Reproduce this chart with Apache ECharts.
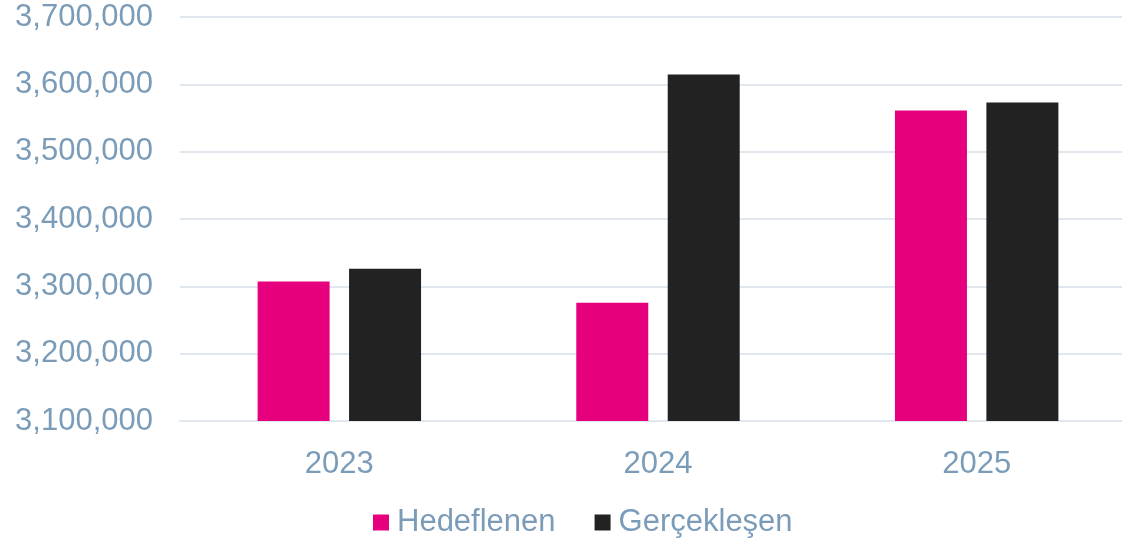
<!DOCTYPE html>
<html>
<head>
<meta charset="utf-8">
<script src="https://cdn.jsdelivr.net/npm/echarts@6/dist/echarts.min.js"></script>
<style>
  html, body { margin: 0; padding: 0; background: #fff; }
  #chart { width: 1122px; height: 541px; }
</style>
</head>
<body>
<div id="chart"></div>
<script>
const years = ['2023', '2024', '2025']
const targetValues = [3307000, 3275500, 3561000]
const actualValues = [3326000, 3614500, 3573000]
const seriesNames = ['Hedeflenen', 'Gerçekleşen']

const labelColor = '#7b9cb8'
const gridColor = '#e1e7ee'

const chart = echarts.init(document.getElementById('chart'))
chart.setOption({
  backgroundColor: '#ffffff',
  animation: false,
  grid: {
    left: 180,
    width: 956,
    top: 17,
    bottom: 120,
    outerBoundsMode: 'none'
  },
  legend: {
    data: seriesNames,
    left: 368,
    top: 502,
    itemWidth: 16,
    itemHeight: 16,
    itemGap: 39,
    icon: 'rect',
    textStyle: {
      color: labelColor,
      fontSize: 31,
      fontFamily: 'Liberation Sans, Arial, sans-serif',
      padding: [0, 0, 0, 3]
    }
  },
  xAxis: {
    type: 'category',
    data: years,
    axisLine: { lineStyle: { color: gridColor, width: 2 } },
    axisTick: { show: false },
    axisLabel: {
      color: labelColor,
      fontSize: 31,
      fontFamily: 'Liberation Sans, Arial, sans-serif',
      margin: 28
    }
  },
  yAxis: {
    type: 'value',
    min: 3100000,
    max: 3700000,
    interval: 100000,
    axisLine: { show: false },
    axisTick: { show: false },
    splitLine: { lineStyle: { color: gridColor, width: 2 } },
    axisLabel: {
      color: labelColor,
      fontSize: 31,
      fontFamily: 'Liberation Sans, Arial, sans-serif',
      margin: 27,
      formatter: v => v.toLocaleString('en-US')
    }
  },
  series: [
    {
      name: seriesNames[0],
      type: 'bar',
      data: targetValues,
      barWidth: 72,
      barGap: '27%',
      itemStyle: { color: '#e6007e' }
    },
    {
      name: seriesNames[1],
      type: 'bar',
      data: actualValues,
      barWidth: 72,
      itemStyle: { color: '#222222' }
    }
  ]
})
</script>
</body>
</html>
